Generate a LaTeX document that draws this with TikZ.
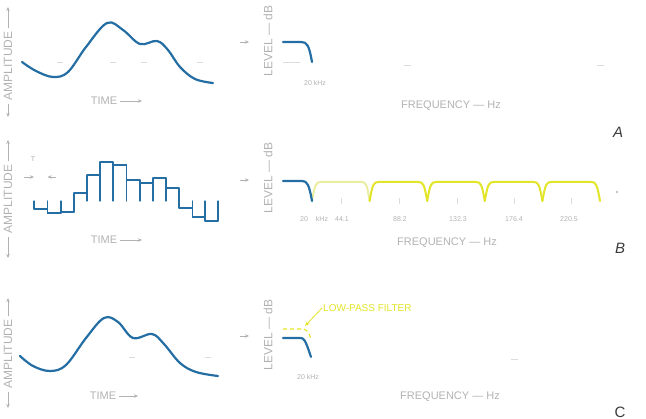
\documentclass[tikz,border=0pt]{standalone}
\usepackage{fontspec}
\setmainfont{Liberation Sans}
\usetikzlibrary{arrows.meta}
\definecolor{txt}{RGB}{178,178,178}
\definecolor{sig}{RGB}{36,110,163}
\definecolor{ylw}{RGB}{226,228,40}
\definecolor{ylwpale}{RGB}{234,236,160}
\definecolor{faint}{RGB}{220,220,220}
\definecolor{letter}{RGB}{60,60,60}
\tikzset{
  lbl/.style={text=txt, font=\fontsize{11}{13}\selectfont, inner sep=0pt},
  vlbl/.style={text=txt, font=\fontsize{12}{14}\selectfont, inner sep=0pt, rotate=90},
  tiny/.style={text=txt, font=\fontsize{7}{8}\selectfont, inner sep=0pt},
  axarrow/.style={draw=txt, line width=0.8pt, -{Stealth[length=4pt,width=3.5pt]}},
  sigline/.style={draw=sig, line width=2.2pt, line cap=round, line join=round},
  stair/.style={draw=sig, line width=1.3pt, line cap=round},
  lobe/.style={draw=ylw, line width=2pt, line cap=round, line join=round},
  faintline/.style={draw=faint, line width=0.7pt},
  panel/.style={text=letter, font=\fontsize{15}{17}\selectfont\itshape, inner sep=0pt},
}
\begin{document}
\begin{tikzpicture}[x=1pt,y=-1pt]
\useasboundingbox (0,0) rectangle (646,419);

% ================= Panel A =================
\node[vlbl] (ampA) at (8,66) {AMPLITUDE};
\draw[axarrow] ([yshift=3pt]ampA.east) -- (8,7);
\draw[axarrow] ([yshift=-3pt]ampA.west) -- (8,117);
\foreach \x in {57,110,141,197}{\draw[faintline] (\x,62) -- ++(6,0);}
\draw[sigline] plot[smooth, tension=0.6] coordinates {(22,62) (36,71) (53,77) (68,72) (86,47) (107,23) (123,30) (140,44) (157,41) (168,50) (180,67) (195,79) (213,83)};
\node[lbl] (tA) at (104,101) {TIME};
\coordinate (tAe) at (142,101);
\draw[axarrow] ([xshift=3pt]tA.east) -- (tAe);
\coordinate (gA1) at (240,42); \coordinate (gA2) at (249,42);
\draw[axarrow] (gA1) -- (gA2);
\node[vlbl] (lvA) at (268,41) {LEVEL — dB};
\draw[faintline] (283,62) -- (300,62);
\foreach \x in {404,597}{\draw[faintline] (\x,65) -- ++(7,0);}
\draw[sigline] (283,42) -- (301,42) .. controls (307,42) and (309,45) .. (312,62);
\node[tiny] (fcA) at (315,83) {20 kHz};
\node[lbl] (frA) at (451,106) {FREQUENCY — Hz};
\node[panel] (pA) at (618,132) {A};

% ================= Panel B =================
\node[vlbl] (ampB) at (8,199) {AMPLITUDE};
\draw[axarrow] ([yshift=3pt]ampB.east) -- (8,140);
\draw[axarrow] ([yshift=-3pt]ampB.west) -- (8,258);
% sample period marker
\node[tiny] (Ts) at (33,159) {T};
\coordinate (ms1) at (24,177); \coordinate (ms2) at (34,177);
\coordinate (ms3) at (56,177); \coordinate (ms4) at (47.5,177);
\draw[axarrow] (ms1) -- (ms2);
\draw[axarrow] (ms3) -- (ms4);
% staircase verticals
\draw[stair] (34,201) -- (34,209);
\draw[stair] (47.5,201) -- (47.5,213);
\draw[stair] (61,201) -- (61,213);
\draw[stair] (74,193) -- (74,212);
\draw[stair] (87,175) -- (87,201);
\draw[stair] (100,162) -- (100,201);
\draw[stair] (113,162) -- (113,201);
\draw[stair] (126.5,165) -- (126.5,201);
\draw[stair] (140,180) -- (140,201);
\draw[stair] (153,178) -- (153,201);
\draw[stair] (166,178) -- (166,201);
\draw[stair] (179,188) -- (179,208);
\draw[stair] (192.5,201) -- (192.5,217);
\draw[stair] (205,201) -- (205,221);
\draw[stair] (218,201) -- (218,221);
% staircase horizontals
\draw[stair] (34,209) -- (47.5,209);
\draw[stair] (47.5,213) -- (61,213);
\draw[stair] (61,212) -- (74,212);
\draw[stair] (74,193) -- (87,193);
\draw[stair] (87,175) -- (100,175);
\draw[stair] (100,162) -- (113,162);
\draw[stair] (113,165) -- (126.5,165);
\draw[stair] (126.5,180) -- (140,180);
\draw[stair] (140,183) -- (153,183);
\draw[stair] (153,178) -- (166,178);
\draw[stair] (166,188) -- (179,188);
\draw[stair] (179,208) -- (192.5,208);
\draw[stair] (192.5,217) -- (205,217);
\draw[stair] (205,221) -- (218,221);
\node[lbl] (tB) at (104,240) {TIME};
\coordinate (tBe) at (142,240);
\draw[axarrow] ([xshift=3pt]tB.east) -- (tBe);
\coordinate (gB1) at (240,180); \coordinate (gB2) at (249,180);
\draw[axarrow] (gB1) -- (gB2);
\node[vlbl] (lvB) at (268,178) {LEVEL — dB};
% image lobes
\draw[lobe, draw=ylwpale] (312,201) .. controls (315,184) and (316,182) .. (321,182) -- (361,182) .. controls (366,182) and (367,184) .. (369.6,201);
\foreach \a in {369.6,427.2,484.8,542.4}{
  \draw[lobe] (\a,201) .. controls (\a+3,184) and (\a+4,182) .. (\a+9,182) -- (\a+48.6,182) .. controls (\a+53.6,182) and (\a+54.6,184) .. (\a+57.6,201);
}
\draw[sigline] (283,181) -- (302,181) .. controls (307,181) and (309,184) .. (312,201);
\foreach \x in {341,399,457,514,571}{\draw[faintline] (\x,198) -- (\x,204);}
\node[tiny] (f0) at (304,219) {20};
\node[tiny] (f1) at (322,219) {kHz};
\node[tiny] (f2) at (342,219) {44.1};
\node[tiny] (f3) at (400,219) {88.2};
\node[tiny] (f4) at (458,219) {132.3};
\node[tiny] (f5) at (514,219) {176.4};
\node[tiny] (f6) at (569,219) {220.5};
\fill[txt] (617,192) circle (1.2pt);
\node[lbl] (frB) at (447,243) {FREQUENCY — Hz};
\node[panel] (pB) at (620,248) {B};

% ================= Panel C =================
\node[vlbl] (ampC) at (8,354) {AMPLITUDE};
\draw[axarrow] ([yshift=3pt]ampC.east) -- (8,298);
\draw[axarrow] ([yshift=-3pt]ampC.west) -- (8,408);
\foreach \x in {129,205}{\draw[faintline] (\x,357) -- ++(6,0);}
\draw[sigline] plot[smooth, tension=0.6] coordinates {(20,356) (33,366) (50,371) (66,365) (86,338) (104,318) (118,322) (133,338) (152,334) (164,344) (180,363) (196,372) (218,376)};
\node[lbl] (tC) at (103,396) {TIME};
\coordinate (tCe) at (138,396);
\draw[axarrow] ([xshift=3pt]tC.east) -- (tCe);
\coordinate (gC1) at (240,336); \coordinate (gC2) at (249,336);
\draw[axarrow] (gC1) -- (gC2);
\node[vlbl] (lvC) at (268,335) {LEVEL — dB};
\draw[draw=ylw, line width=1.2pt, dashed, dash pattern=on 4pt off 3pt] (283,329) -- (302,329) .. controls (306,329) and (309,331) .. (311,340);
\draw[sigline] (283,338) -- (300,338) .. controls (304,338) and (305,339) .. (311,357);
\node[text=ylw, font=\fontsize{10}{12}\selectfont, inner sep=0pt, anchor=west] (lpf) at (323,308) {LOW-PASS FILTER};
\coordinate (lpfTip) at (305,326);
\draw[draw=ylw, line width=0.8pt, -{Stealth[length=5pt,width=4pt]}] ([xshift=-1pt]lpf.west) -- (lpfTip);
\draw[faintline] (511,359) -- (518,359);
\node[tiny] (fcC) at (308,377) {20 kHz};
\node[lbl] (frC) at (450,397) {FREQUENCY — Hz};
\node[text=letter, font=\fontsize{15}{17}\selectfont, inner sep=0pt] (pC) at (620,412) {C};
\end{tikzpicture}
\end{document}
